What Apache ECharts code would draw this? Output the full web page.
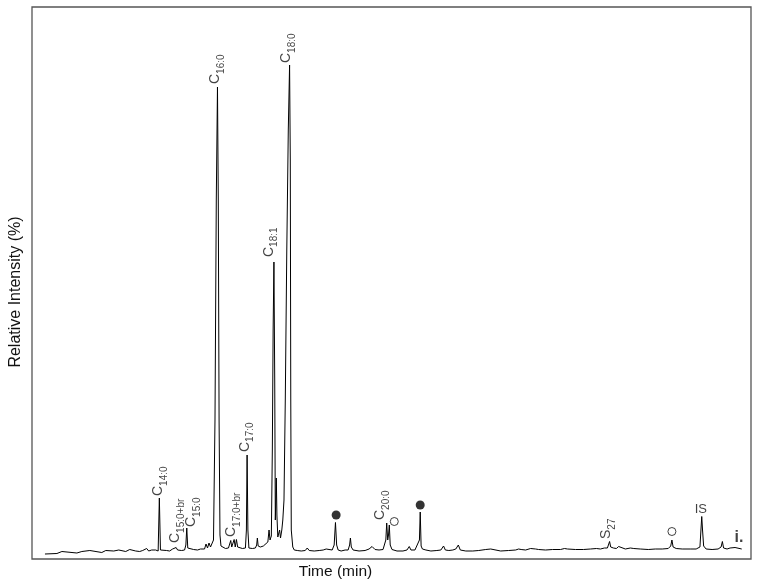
<!DOCTYPE html>
<html>
<head>
<meta charset="utf-8">
<script src="https://cdn.jsdelivr.net/npm/echarts@6/dist/echarts.min.js"></script>
<style>
  html, body { margin: 0; padding: 0; background: #fff; }
  #chromatogram { width: 761px; height: 587px; }
</style>
</head>
<body>
<div id="chromatogram"></div>
<script>
// chromatogram trace, [time (min), relative intensity]
var trace = [
  [1.3, 1.0], [2.5, 1.1], [3.0, 1.5], [3.2, 1.1], [4.5, 1.2], [5.0, 1.5], [5.2, 1.2],
  [5.8, 1.7], [6.0, 1.3], [7.0, 1.3], [7.4, 1.7], [7.6, 1.3], [8.2, 1.6], [8.4, 1.3],
  [8.7, 1.8], [8.9, 1.4], [9.4, 1.5], [9.6, 1.4], [9.8, 1.9], [10.0, 1.5], [10.4, 1.6],
  [10.6, 2.0], [10.8, 1.5], [11.1, 1.7], [11.5, 2.1], [11.7, 1.6], [12.0, 1.8], [12.2, 2.2],
  [12.4, 1.8], [12.55, 2.0], [12.65, 1.6], [12.77, 12.2], [12.88, 1.8], [13.0, 1.6],
  [13.5, 1.7], [13.8, 1.6], [14.1, 2.0], [14.2, 2.4], [14.3, 1.8], [14.45, 2.3], [14.6, 1.8],
  [15.0, 1.7], [15.3, 1.8], [15.43, 2.8], [15.52, 6.2], [15.62, 2.2], [15.8, 1.8],
  [16.2, 1.9], [16.4, 2.2], [16.6, 1.8], [16.9, 2.0], [17.1, 2.3], [17.3, 2.0], [17.45, 3.0],
  [17.6, 2.2], [17.75, 3.2], [17.9, 2.4], [18.05, 2.2], [18.2, 3.8], [18.35, 27.8],
  [18.48, 71.8], [18.6, 94.4], [18.68, 71.8], [18.76, 27.8], [18.85, 4.8], [18.95, 2.6],
  [19.1, 2.2], [19.4, 2.1], [19.7, 2.2], [19.83, 2.6], [19.93, 3.7], [20.03, 2.4],
  [20.15, 2.6], [20.27, 3.9], [20.38, 2.4], [20.5, 3.9], [20.62, 2.4], [20.8, 2.2],
  [21.1, 2.1], [21.4, 2.2], [21.5, 5.8], [21.57, 20.8], [21.65, 5.8], [21.75, 2.2],
  [22.1, 2.1], [22.4, 2.2], [22.53, 2.8], [22.6, 4.2], [22.68, 2.6], [22.9, 2.4],
  [23.2, 2.6], [23.4, 2.8], [23.65, 3.4], [23.77, 5.8], [23.87, 3.8], [24.0, 4.6],
  [24.1, 21.8], [24.18, 45.8], [24.26, 59.4], [24.34, 35.8], [24.4, 7.8], [24.45, 11.8],
  [24.5, 16.2], [24.56, 8.8], [24.65, 4.4], [24.75, 5.2], [24.83, 5.8], [24.92, 4.2],
  [25.05, 5.8], [25.15, 7.8], [25.27, 11.8], [25.4, 31.8], [25.55, 61.8], [25.7, 85.8],
  [25.83, 98.8], [25.9, 79.8], [25.95, 31.8], [26.0, 5.8], [26.07, 6.0], [26.15, 2.4],
  [26.3, 1.8], [26.6, 1.7], [27.0, 1.6], [27.4, 1.7], [27.6, 2.2], [27.8, 1.7], [28.3, 1.6],
  [28.8, 1.7], [29.2, 1.8], [29.5, 2.0], [29.7, 1.7], [30.1, 1.8], [30.3, 2.8], [30.43, 7.3],
  [30.55, 2.8], [30.7, 1.8], [31.0, 1.6], [31.4, 1.8], [31.7, 1.8], [31.85, 2.8],
  [31.93, 4.2], [32.02, 2.4], [32.2, 1.8], [32.8, 1.6], [33.4, 1.7], [33.8, 2.0],
  [34.1, 2.5], [34.4, 1.9], [34.8, 1.8], [35.2, 1.9], [35.48, 3.8], [35.57, 7.2],
  [35.67, 3.8], [35.75, 4.8], [35.83, 6.8], [35.92, 2.8], [36.1, 1.9], [36.6, 1.6],
  [37.2, 1.6], [37.6, 1.8], [37.83, 2.5], [38.0, 1.8], [38.4, 1.8], [38.6, 2.0],
  [38.85, 3.8], [38.93, 9.4], [39.02, 2.6], [39.15, 2.0], [39.3, 2.3], [39.5, 1.8],
  [40.0, 1.6], [40.6, 1.7], [41.0, 1.8], [41.27, 2.6], [41.45, 1.8], [41.8, 1.7],
  [42.2, 1.8], [42.5, 2.0], [42.75, 2.8], [42.95, 1.8], [43.5, 1.6], [44.2, 1.6],
  [44.8, 1.7], [45.5, 1.9], [45.7, 1.8], [46.0, 2.0], [46.2, 1.7], [47.0, 1.6], [47.8, 1.7],
  [48.5, 1.8], [48.8, 2.0], [48.93, 2.4], [49.05, 1.9], [49.5, 1.8], [50.0, 2.1],
  [50.2, 1.8], [50.5, 2.0], [50.8, 1.9], [51.5, 1.8], [52.2, 1.9], [53.0, 1.9], [53.4, 2.1],
  [53.55, 2.5], [53.7, 2.0], [54.5, 1.9], [55.3, 1.9], [56.0, 2.0], [56.6, 2.1], [57.0, 2.0],
  [57.4, 2.2], [57.7, 2.2], [57.83, 2.6], [57.92, 3.5], [58.03, 2.4], [58.3, 2.2],
  [58.6, 2.1], [58.83, 2.5], [59.0, 2.1], [59.5, 2.0], [60.0, 2.2], [60.17, 2.6],
  [60.35, 2.1], [61.0, 2.0], [61.8, 1.9], [62.5, 2.0], [63.2, 2.0], [63.8, 2.1],
  [64.05, 2.6], [64.17, 3.8], [64.29, 2.4], [64.6, 2.1], [65.2, 2.0], [66.0, 2.0],
  [66.6, 2.0], [66.98, 2.4], [67.08, 5.8], [67.16, 8.5], [67.24, 5.8], [67.35, 2.6],
  [67.6, 2.0], [68.2, 1.9], [68.8, 2.0], [69.1, 2.4], [69.23, 3.5], [69.35, 2.2],
  [69.7, 2.0], [70.0, 2.2], [70.2, 2.0], [70.5, 2.3], [70.7, 2.1], [71.17, 2.0]
];

// peak labels: main letter + subscript, anchored where the text starts
var peakNames = ['C', 'C', 'C', 'C', 'C', 'C', 'C', 'C', 'C', 'S'];
var peakSubs = ['14:0', '15:0+br', '15:0', '16:0', '17:0+br', '17:0', '18:1', '18:0', '20:0', '27'];
var peakLabelTime = [12.67, 14.33, 15.93, 18.33, 20.0, 21.33, 23.73, 25.5, 34.9, 57.57];
var peakLabelLevel = [12.6, 3.2, 6.4, 95.0, 4.4, 21.4, 60.4, 99.2, 7.8, 4.0];

// markers over peaks
var filledMarks = [[30.5, 8.8], [38.93, 10.8]];
var openMarks = [[36.33, 7.5], [64.17, 5.5]];

// plain text notes
var notes = [
  {text: 'IS', time: 67.07, level: 10.0, bold: false},
  {text: 'i.', time: 70.9, level: 4.2, bold: true}
];

var font = '"Liberation Sans", Arial, sans-serif';

let chart = echarts.init(document.getElementById('chromatogram'));

let labelData = peakLabelTime.map(function (t, i) {
  return {
    value: [t, peakLabelLevel[i]],
    label: {formatter: '{c|' + peakNames[i] + '}{s|' + peakSubs[i] + '}'}
  };
});

let noteData = notes.map(function (n) {
  return {
    value: [n.time, n.level],
    label: {
      formatter: n.text,
      fontSize: n.bold ? 16 : 13,
      fontWeight: n.bold ? 'bold' : 'normal'
    }
  };
});

let option = {
  animation: false,
  backgroundColor: '#fff',
  grid: {
    left: 30,
    right: 10,
    top: 7,
    bottom: 28,
    show: true,
    borderColor: '#555',
    borderWidth: 1.3
  },
  xAxis: {
    type: 'value',
    min: 0,
    max: 72.1,
    name: 'Time (min)',
    nameLocation: 'middle',
    nameGap: 5,
    nameTextStyle: {
      fontFamily: font, fontSize: 15.5, color: '#111', verticalAlign: 'top',
      padding: [0, 112, 0, 0]
    },
    axisLine: {show: false},
    axisTick: {show: false},
    axisLabel: {show: false},
    splitLine: {show: false}
  },
  yAxis: {
    type: 'value',
    min: 0,
    max: 110.4,
    name: 'Relative Intensity (%)',
    nameLocation: 'middle',
    nameRotate: 90,
    nameGap: 8,
    nameTextStyle: {
      fontFamily: font, fontSize: 16, color: '#111',
      padding: [0, 18, 0, 0]
    },
    axisLine: {show: false},
    axisTick: {show: false},
    axisLabel: {show: false},
    splitLine: {show: false}
  },
  series: [
    {
      name: 'trace',
      type: 'line',
      data: trace,
      showSymbol: false,
      symbol: 'none',
      lineStyle: {color: '#000', width: 1},
      silent: true,
      z: 2
    },
    {
      name: 'peak labels',
      type: 'scatter',
      data: labelData,
      symbolSize: 0,
      silent: true,
      label: {
        show: true,
        position: 'inside',
        rotate: 90,
        align: 'left',
        verticalAlign: 'middle',
        color: '#111',
        fontFamily: font,
        rich: {
          c: {fontSize: 14, fontFamily: font, color: '#111', height: 15, verticalAlign: 'middle'},
          s: {fontSize: 10, fontFamily: font, color: '#111', height: 10, lineHeight: 22, verticalAlign: 'bottom'}
        }
      },
      z: 3
    },
    {
      name: 'notes',
      type: 'scatter',
      data: noteData,
      symbolSize: 0,
      silent: true,
      label: {
        show: true,
        position: 'inside',
        align: 'center',
        verticalAlign: 'middle',
        color: '#111',
        fontFamily: font
      },
      z: 3
    },
    {
      name: 'filled',
      type: 'scatter',
      data: filledMarks,
      symbol: 'circle',
      symbolSize: 9,
      silent: true,
      itemStyle: {color: '#000'},
      z: 3
    },
    {
      name: 'open',
      type: 'scatter',
      data: openMarks,
      symbol: 'circle',
      symbolSize: 8,
      silent: true,
      itemStyle: {color: '#fff', borderColor: '#111', borderWidth: 1},
      z: 3
    }
  ]
};

chart.setOption(option);
</script>
</body>
</html>
